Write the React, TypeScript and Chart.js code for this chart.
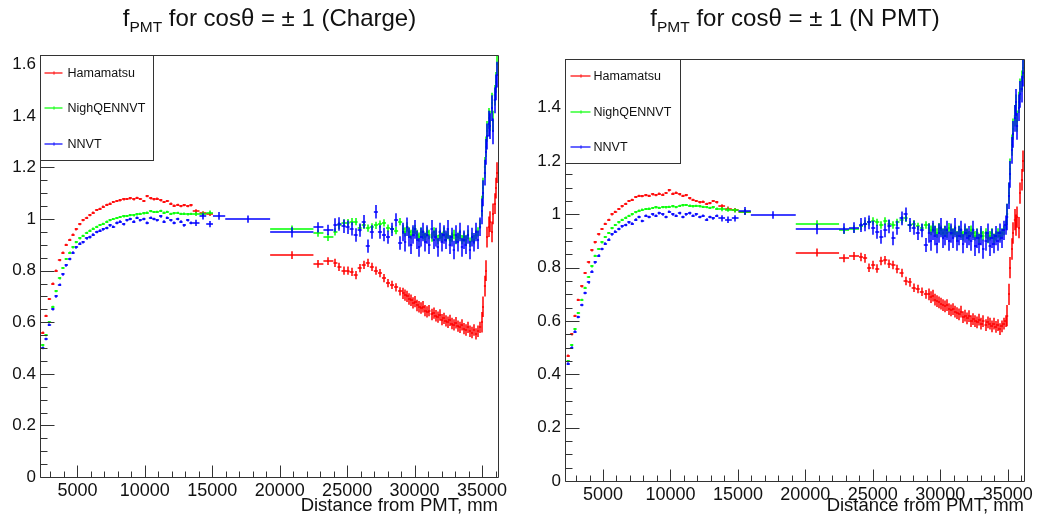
import React, { useEffect, useRef } from 'react';
import { Chart, registerables } from 'chart.js';

Chart.register(...registerables);

// ---------------- data ----------------
const SERIES_NAMES = ['Hamamatsu', 'NighQENNVT', 'NNVT'];
const SERIES_COLORS = ['#ff0000', '#00ff00', '#0000ff'];

// variable histogram binning: [first edge, bin width, number of bins]
const BIN_GROUPS: [number, number, number][] = [
  [2300, 250, 45],
  [13550, 500, 3],
  [15050, 910, 1],
  [15960, 3330, 1],
  [19290, 3210, 1],
  [22500, 740, 2],
  [23980, 300, 17],
  [29080, 150, 39],
  [34930, 105, 12],
];

// ---- Charge panel ----
const L_HAM = [
  0.56, 0.625, 0.69, 0.75, 0.80, 0.84, 0.87, 0.90, 0.92, 0.94, 0.96, 0.98, 0.995, 1.005, 1.015, 1.025, 1.035, 1.04, 1.048, 1.055, 1.06, 1.066, 1.07, 1.072, 1.076, 1.078, 1.08, 1.076, 1.082, 1.078, 1.07, 1.088, 1.08, 1.076, 1.079, 1.072, 1.066, 1.07, 1.06, 1.052, 1.055, 1.05, 1.054, 1.05, 1.053,
  1.03, 1.022, 1.02,
  null, null, 0.86,
  0.826, 0.837,
  0.83, 0.815, 0.80, 0.80, 0.795, 0.783, 0.81, 0.822, 0.83, 0.815, 0.80, 0.79, 0.771, 0.752, 0.745, 0.735, 0.72,
  0.712, 0.705, 0.70, 0.69, 0.685, 0.675, 0.68, 0.665, 0.66, 0.655, 0.66, 0.645, 0.64, 0.645, 0.63, 0.635, 0.625, 0.62, 0.628, 0.61, 0.615, 0.605, 0.60, 0.607, 0.595, 0.59, 0.598, 0.585, 0.58, 0.59, 0.575, 0.57, 0.58, 0.565, 0.56, 0.57, 0.555, 0.565, 0.58,
  0.60, 0.66, 0.74, 0.80, 0.93, 0.97, 0.99, 0.95, 1.02, 1.06, 1.12, 1.18,
];
const L_NQ = [
  0.51, 0.55, 0.60, 0.66, 0.72, 0.77, 0.81, 0.845, 0.87, 0.89, 0.91, 0.925, 0.935, 0.947, 0.955, 0.963, 0.97, 0.977, 0.982, 0.99, 0.995, 1.0, 1.004, 1.008, 1.01, 1.012, 1.015, 1.014, 1.018, 1.02, 1.022, 1.025, 1.03, 1.027, 1.028, 1.032, 1.025, 1.028, 1.02, 1.022, 1.024, 1.02, 1.021, 1.018, 1.02,
  1.02, 1.02, 1.025,
  null, null, 0.961,
  0.945, 0.929,
  0.95, 0.975, 0.985, 0.986, 0.99, 0.99, 0.965, 0.975, 0.965, 0.97, 0.975, 0.98, 0.985, 0.965, 0.96, 0.955, 0.99,
  0.96, 0.95, 0.97, 0.95, 0.94, 0.95, 0.96, 0.94, 0.93, 0.95, 0.94, 0.93, 0.95, 0.94, 0.93, 0.95, 0.94, 0.92, 0.94, 0.93, 0.95, 0.93, 0.94, 0.92, 0.93, 0.94, 0.92, 0.93, 0.94, 0.92, 0.93, 0.92, 0.94, 0.91, 0.93, 0.92, 0.94, 0.95, 0.98,
  1.05, 1.12, 1.2, 1.28, 1.34, 1.39, 1.38, 1.45, 1.38, 1.48, 1.53, 1.6,
];
const L_NN = [
  0.50, 0.535, 0.59, 0.65, 0.70, 0.745, 0.785, 0.82, 0.845, 0.87, 0.89, 0.905, 0.91, 0.925, 0.93, 0.94, 0.95, 0.955, 0.96, 0.965, 0.975, 0.97, 0.985, 0.99, 0.98, 0.995, 1.0, 0.99, 1.005, 0.995, 1.0, 0.985, 1.005, 1.0, 0.995, 1.01, 0.99, 1.005, 0.995, 0.985, 1.0, 0.99, 0.975, 0.995, 0.985,
  0.985, 1.01, 0.98,
  1.012, 1.0, 0.948,
  0.968, 0.958,
  0.977, 0.981, 0.972, 0.968, 0.962, 0.938, 0.957, 0.99, 0.895, 0.95, 1.028, 0.95, 0.94, 0.93, 0.96, 0.996, 0.907,
  0.95, 0.91, 0.97, 0.93, 0.90, 0.94, 0.96, 0.92, 0.89, 0.93, 0.95, 0.91, 0.94, 0.90, 0.96, 0.92, 0.93, 0.89, 0.95, 0.91, 0.94, 0.92, 0.96, 0.90, 0.93, 0.88, 0.94, 0.91, 0.95, 0.89, 0.92, 0.90, 0.94, 0.88, 0.93, 0.91, 0.95, 0.92, 0.97,
  1.03, 1.1, 1.18, 1.26, 1.32, 1.37, 1.36, 1.43, 1.34, 1.46, 1.51, 1.56,
];

// ---- N PMT panel ----
const R_HAM = [
  0.47, 0.55, 0.62, 0.68, 0.73, 0.78, 0.82, 0.865, 0.895, 0.925, 0.945, 0.965, 0.98, 1.0, 1.01, 1.02, 1.03, 1.04, 1.05, 1.055, 1.065, 1.07, 1.068, 1.072, 1.07, 1.075, 1.072, 1.078, 1.074, 1.08, 1.09, 1.078, 1.082, 1.075, 1.07, 1.072, 1.06, 1.055, 1.05, 1.045, 1.048, 1.04, 1.042, 1.05, 1.045,
  1.03, 1.022, 1.016,
  1.01, null, 0.857,
  0.835, 0.844,
  0.84, 0.835, 0.80, 0.81, 0.797, 0.825, 0.828, 0.815, 0.81, 0.795, 0.78, 0.75, 0.745, 0.725, 0.72, 0.71, 0.70,
  0.70, 0.69, 0.695, 0.68, 0.675, 0.67, 0.665, 0.66, 0.655, 0.66, 0.645, 0.64, 0.645, 0.635, 0.63, 0.625, 0.635, 0.615, 0.62, 0.61, 0.618, 0.60, 0.607, 0.60, 0.595, 0.605, 0.59, 0.60, 0.585, 0.595, 0.59, 0.58, 0.59, 0.578, 0.585, 0.57, 0.58, 0.59, 0.60,
  0.62, 0.70, 0.80, 0.87, 0.93, 0.98, 0.96, 0.99, 0.95, 1.08, 1.13, 1.2,
];
const R_NQ = [
  0.45, 0.51, 0.57, 0.63, 0.68, 0.725, 0.765, 0.805, 0.845, 0.87, 0.895, 0.915, 0.93, 0.948, 0.96, 0.97, 0.98, 0.988, 0.995, 1.0, 1.008, 1.014, 1.018, 1.02, 1.022, 1.024, 1.026, 1.025, 1.027, 1.026, 1.028, 1.03, 1.027, 1.032, 1.034, 1.035, 1.033, 1.03, 1.032, 1.03, 1.028, 1.027, 1.025, 1.026, 1.022,
  1.02, 1.018, 1.015,
  1.01, null, 0.964,
  0.94, 0.945,
  0.955, 0.965, 0.972, 0.975, 0.97, 0.96, 0.975, 0.965, 0.96, 0.97, 0.98, 0.985, 0.96, 0.965, 0.955, 0.95, 0.96,
  0.95, 0.94, 0.95, 0.94, 0.93, 0.95, 0.94, 0.93, 0.94, 0.93, 0.95, 0.94, 0.93, 0.94, 0.92, 0.94, 0.93, 0.92, 0.94, 0.93, 0.92, 0.94, 0.93, 0.92, 0.93, 0.91, 0.93, 0.92, 0.93, 0.91, 0.92, 0.93, 0.91, 0.92, 0.93, 0.92, 0.93, 0.94, 0.96,
  1.0, 1.08, 1.17, 1.26, 1.32, 1.37, 1.41, 1.35, 1.42, 1.47, 1.5, 1.55,
];
const R_NN = [
  0.44, 0.50, 0.56, 0.615, 0.66, 0.705, 0.745, 0.785, 0.82, 0.845, 0.87, 0.89, 0.905, 0.925, 0.935, 0.945, 0.955, 0.96, 0.97, 0.965, 0.98, 0.99, 0.975, 0.995, 0.99, 1.0, 0.995, 1.005, 1.0, 0.99, 1.01, 1.0, 0.995, 1.005, 0.99, 1.0, 1.005, 0.995, 1.0, 0.99, 0.995, 0.98, 0.99, 0.985, 0.995,
  0.985, 0.98, 0.985,
  1.013, 0.998, 0.945,
  0.947, 0.95,
  0.96, 0.963, 0.97, 0.95, 0.935, 0.916, 0.94, 0.955, 0.91, 0.95, 0.985, 1.0, 0.96, 0.95, 0.93, 0.94, 0.885,
  0.93, 0.90, 0.94, 0.92, 0.89, 0.93, 0.95, 0.91, 0.92, 0.94, 0.90, 0.93, 0.91, 0.95, 0.90, 0.92, 0.94, 0.89, 0.93, 0.91, 0.92, 0.90, 0.94, 0.88, 0.91, 0.89, 0.92, 0.87, 0.90, 0.93, 0.88, 0.91, 0.89, 0.92, 0.90, 0.93, 0.91, 0.94, 0.96,
  0.99, 1.07, 1.15, 1.24, 1.30, 1.36, 1.42, 1.33, 1.40, 1.45, 1.47, 1.53,
];

// vertical error (half length) per bin group
const L_ERR = [
  [0.004, 0.008, 0.01, 0.012, 0.015, 0.015, 0.016, 0.022, 0.04],
  [0.004, 0.008, 0.01, 0.012, 0.014, 0.014, 0.014, 0.018, 0.04],
  [0.005, 0.012, 0.015, 0.014, 0.02, 0.02, 0.026, 0.036, 0.05],
];
const R_ERR = [
  [0.004, 0.008, 0.01, 0.012, 0.015, 0.015, 0.016, 0.022, 0.04],
  [0.004, 0.008, 0.01, 0.012, 0.014, 0.014, 0.014, 0.018, 0.04],
  [0.005, 0.012, 0.015, 0.014, 0.02, 0.02, 0.026, 0.036, 0.05],
];

const X_TICK_STEP = 5000;
const Y_TICK_STEP = 0.2;
const X_TITLE = 'Distance from PMT, mm';

// ---------------- helpers ----------------
type Bin = { lo: number; hi: number; g: number };
function buildBins(): Bin[] {
  const out: Bin[] = [];
  BIN_GROUPS.forEach(([start, w, n], g) => {
    for (let k = 0; k < n; k++) out.push({ lo: start + k * w, hi: start + (k + 1) * w, g });
  });
  return out;
}
const BINS = buildBins();

function makePoints(values: (number | null)[], errs: number[]) {
  const pts: any[] = [];
  values.forEach((v, i) => {
    const b = BINS[i];
    if (v == null || !b) return;
    pts.push({ x: (b.lo + b.hi) / 2, y: v, xl: b.lo, xh: b.hi, e: errs[b.g] });
  });
  return pts;
}

const FONT = '"Liberation Sans", Arial, Helvetica, sans-serif';

const errorBarPlugin = {
  id: 'errorBars',
  afterDatasetsDraw(chart: any) {
    const { ctx, chartArea: a, scales } = chart;
    const xs = scales.x, ys = scales.y;
    ctx.save();
    ctx.beginPath();
    ctx.rect(a.left, a.top, a.right - a.left, a.bottom - a.top);
    ctx.clip();
    chart.data.datasets.forEach((ds: any) => {
      ctx.strokeStyle = ds.borderColor;
      ctx.lineWidth = 1.5;
      ctx.beginPath();
      ds.data.forEach((p: any) => {
        const px = Math.round(xs.getPixelForValue(p.x));
        const py = Math.round(ys.getPixelForValue(p.y));
        const xl = xs.getPixelForValue(p.xl);
        const xh = xs.getPixelForValue(p.xh);
        const yl = ys.getPixelForValue(p.y - p.e);
        const yh = ys.getPixelForValue(p.y + p.e);
        ctx.moveTo(Math.min(xl, px - 1), py);
        ctx.lineTo(Math.max(xh, px + 1), py);
        ctx.moveTo(px, Math.max(yl, py + 1));
        ctx.lineTo(px, Math.min(yh, py - 1));
      });
      ctx.stroke();
    });
    ctx.restore();
  },
};

const framePlugin = {
  id: 'rootFrame',
  afterDraw(chart: any, _args: any, opts: any) {
    const { ctx, chartArea: a, scales } = chart;
    const xs = scales.x, ys = scales.y;
    const L = a.left - 0.5, R = a.right + 0.5, T = a.top - 0.5, B = a.bottom + 0.5;
    ctx.save();
    ctx.strokeStyle = '#333';
    ctx.lineWidth = 1;
    ctx.beginPath();
    ctx.rect(L, T, R - L, B - T);
    // y ticks (major + 3 minors between)
    const yMax = ys.max;
    for (let k = 0; k * Y_TICK_STEP / 4 <= yMax + 1e-9; k++) {
      const v = k * Y_TICK_STEP / 4;
      const py = Math.round(ys.getPixelForValue(v)) + 0.5;
      const len = k % 4 === 0 ? 14 : 7;
      ctx.moveTo(L, py);
      ctx.lineTo(L + len, py);
    }
    // x ticks (major + 4 minors between)
    const minor = X_TICK_STEP / 5;
    for (let k = Math.ceil(xs.min / minor); k * minor <= xs.max; k++) {
      const px = Math.round(xs.getPixelForValue(k * minor)) + 0.5;
      const len = k % 5 === 0 ? 12 : 6;
      ctx.moveTo(px, B);
      ctx.lineTo(px, B - len);
    }
    ctx.stroke();

    // legend box
    const lw = opts.w, lh = opts.h;
    ctx.fillStyle = '#fff';
    ctx.fillRect(L, T, lw, lh);
    ctx.strokeStyle = '#333';
    ctx.strokeRect(L, T, lw, lh);
    ctx.font = `${opts.fontSize}px ${FONT}`;
    ctx.textBaseline = 'middle';
    ctx.textAlign = 'left';
    chart.data.datasets.forEach((ds: any, i: number) => {
      const yy = Math.round(T + opts.rows[i]);
      ctx.strokeStyle = ds.borderColor;
      ctx.lineWidth = 1.5;
      ctx.globalAlpha = 0.8;
      ctx.beginPath();
      ctx.moveTo(L + opts.lineX0, yy);
      ctx.lineTo(L + opts.lineX1, yy);
      const mid = Math.round(L + (opts.lineX0 + opts.lineX1) / 2);
      ctx.moveTo(mid, yy - 1.5);
      ctx.lineTo(mid, yy + 1.5);
      ctx.stroke();
      ctx.globalAlpha = 1;
      ctx.fillStyle = '#111';
      ctx.fillText(ds.label, L + opts.textX, yy + 0.5);
    });
    ctx.restore();
  },
};

type PanelProps = {
  values: (number | null)[][];
  errs: number[][];
  xMin: number;
  xMax: number;
  yMax: number;
  yAxisWidth: number;
  xAxisHeight: number;
  pad: { left: number; top: number; right: number; bottom: number };
  legend: any;
};

function Panel(props: PanelProps) {
  const ref = useRef<HTMLCanvasElement | null>(null);
  useEffect(() => {
    if (!ref.current) return;
    const datasets = SERIES_NAMES.map((name, i) => ({
      label: name,
      data: makePoints(props.values[i], props.errs[i]),
      borderColor: SERIES_COLORS[i],
      backgroundColor: SERIES_COLORS[i],
      pointRadius: 0,
      showLine: false,
    }));
    const chart = new Chart(ref.current, {
      type: 'scatter',
      data: { datasets },
      options: {
        animation: false,
        responsive: false,
        events: [],
        layout: { padding: props.pad },
        scales: {
          x: {
            type: 'linear',
            min: props.xMin,
            max: props.xMax,
            grid: { display: false, drawTicks: false },
            border: { display: false },
            afterBuildTicks: (s: any) => {
              const t: any[] = [];
              for (let v = Math.ceil(s.min / X_TICK_STEP) * X_TICK_STEP; v <= s.max; v += X_TICK_STEP) t.push({ value: v });
              s.ticks = t;
            },
            ticks: {
              autoSkip: false,
              maxRotation: 0,
              padding: 3,
              color: '#111',
              font: { family: FONT, size: 18 },
              callback: (v: any) => String(v),
            },
            title: {
              display: true,
              text: X_TITLE,
              align: 'end',
              color: '#111',
              font: { family: FONT, size: 18.5 },
              padding: { top: 0, bottom: 0 },
            },
            afterFit: (s: any) => {
              s.height = props.xAxisHeight;
            },
          },
          y: {
            type: 'linear',
            min: 0,
            max: props.yMax,
            grid: { display: false, drawTicks: false },
            border: { display: false },
            ticks: {
              stepSize: Y_TICK_STEP,
              includeBounds: false,
              padding: 5,
              color: '#111',
              font: { family: FONT, size: 17 },
              callback: (v: any) => String(Math.round(Number(v) * 10) / 10),
            },
            afterFit: (s: any) => {
              s.width = props.yAxisWidth;
            },
          },
        },
        plugins: {
          legend: { display: false },
          tooltip: { enabled: false },
          rootFrame: props.legend,
        } as any,
      },
      plugins: [errorBarPlugin, framePlugin],
    } as any);
    return () => chart.destroy();
  }, []);
  return <canvas ref={ref} width={519} height={517} style={{ display: 'block' }} />;
}

function Title({ left, width, suffix }: { left: number; width: number; suffix: string }) {
  return (
    <div
      style={{
        position: 'absolute',
        left,
        top: 6,
        width,
        textAlign: 'center',
        fontFamily: FONT,
        fontSize: 24,
        lineHeight: '24px',
        color: '#111',
        whiteSpace: 'nowrap',
      }}
    >
      f<span style={{ fontSize: 15.5, position: 'relative', top: 6 }}>PMT</span> for cosθ = ± 1 ({suffix})
    </div>
  );
}

export default function App() {
  return (
    <div style={{ position: 'absolute', left: 0, top: 0, width: 1038, height: 517, background: '#fff', overflow: 'hidden' }}>
      <div style={{ position: 'absolute', left: 0, top: 0 }}>
        <Panel
          values={[L_HAM, L_NQ, L_NN]}
          errs={L_ERR}
          xMin={2300}
          xMax={36185}
          yMax={1.632}
          yAxisWidth={41}
          xAxisHeight={40}
          pad={{ left: 0, top: 56, right: 21, bottom: 0 }}
          legend={{ w: 113, h: 105, rows: [17, 52, 88], lineX0: 4, lineX1: 22, textX: 27, fontSize: 12.5 }}
        />
      </div>
      <div style={{ position: 'absolute', left: 519, top: 0 }}>
        <Panel
          values={[R_HAM, R_NQ, R_NN]}
          errs={R_ERR}
          xMin={2257}
          xMax={36208}
          yMax={1.579}
          yAxisWidth={47}
          xAxisHeight={36}
          pad={{ left: 0, top: 60, right: 14, bottom: 0 }}
          legend={{ w: 115, h: 104, rows: [16, 52, 87], lineX0: 5, lineX1: 25, textX: 28, fontSize: 12.5 }}
        />
      </div>
      <Title left={41} width={457} suffix="Charge" />
      <Title left={566} width={458} suffix="N PMT" />
    </div>
  );
}
